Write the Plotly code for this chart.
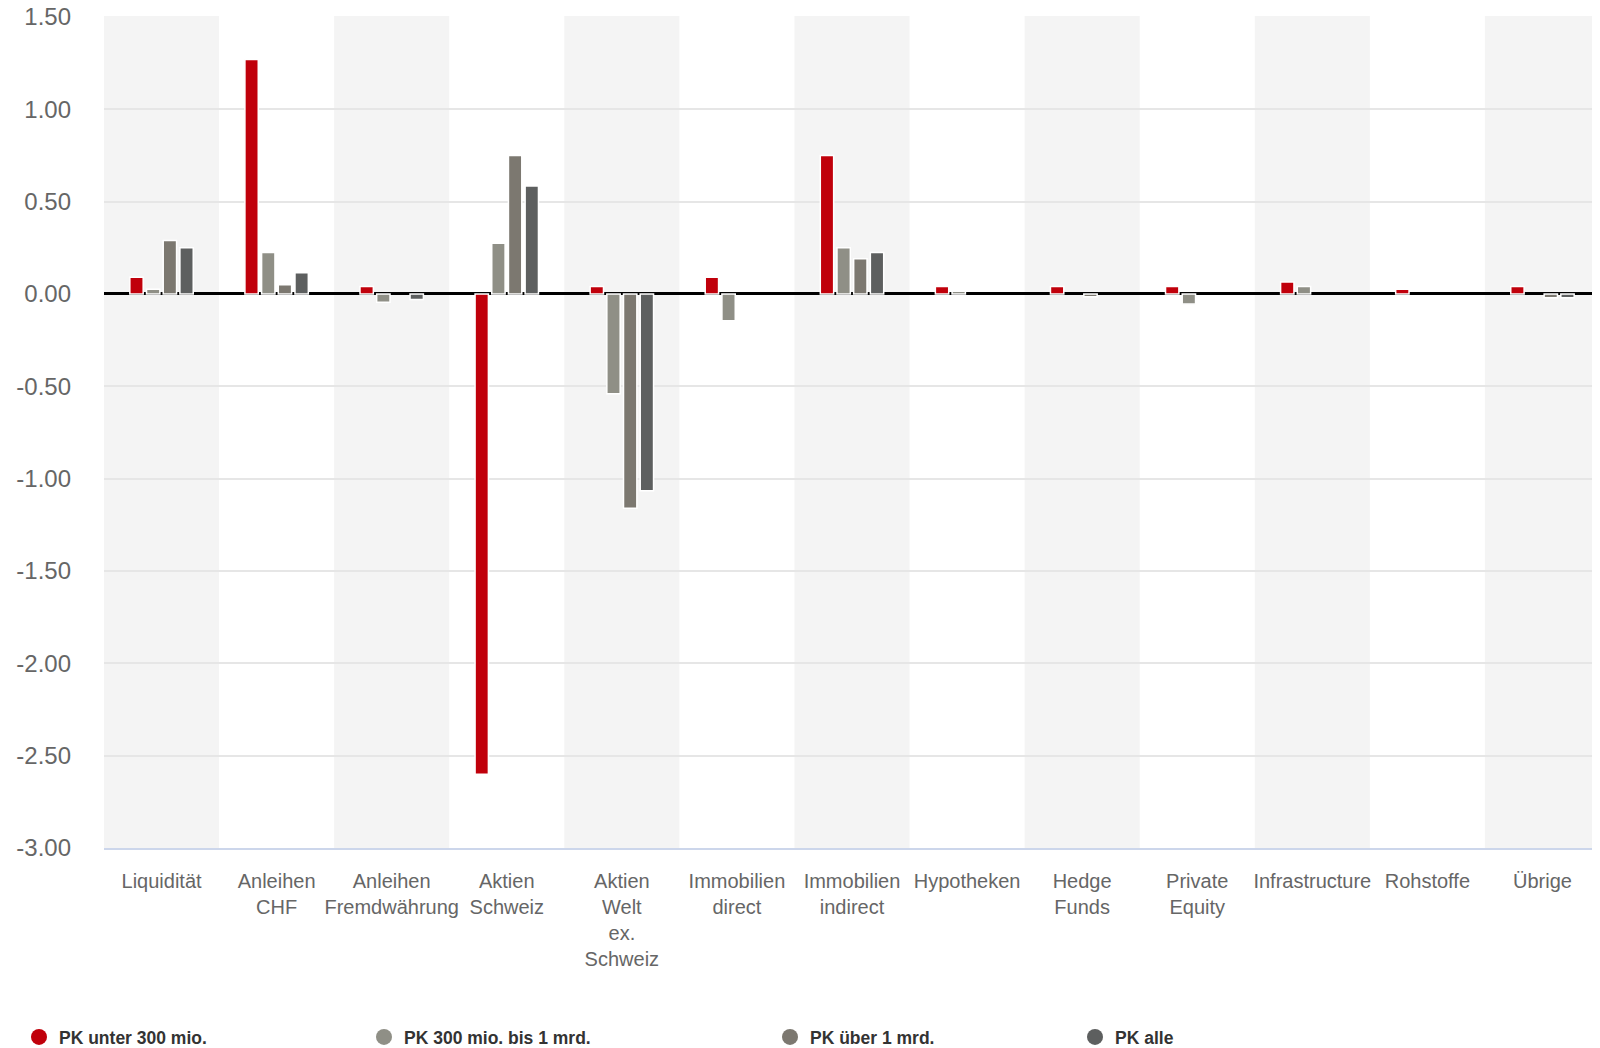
import plotly.graph_objects as go

# Anlagekategorien
kategorien = ["Liquidität", "Anleihen CHF", "Anleihen Fremdwährung", "Aktien Schweiz",
              "Aktien Welt ex. Schweiz", "Immobilien direct", "Immobilien indirect",
              "Hypotheken", "Hedge Funds", "Private Equity", "Infrastructure",
              "Rohstoffe", "Übrige"]
kategorie_labels = ["Liquidität", "Anleihen<br>CHF", "Anleihen<br>Fremdwährung",
                    "Aktien<br>Schweiz", "Aktien<br>Welt<br>ex.<br>Schweiz",
                    "Immobilien<br>direct", "Immobilien<br>indirect", "Hypotheken",
                    "Hedge<br>Funds", "Private<br>Equity", "Infrastructure",
                    "Rohstoffe", "Übrige"]

# Werte je Pensionskassen-Gruppe (None = kein Balken)
pk_unter_300 = [0.09, 1.27, 0.04, -2.60, 0.04, 0.09, 0.75, 0.04, 0.04, 0.04, 0.065, 0.025, 0.04]
pk_300_bis_1mrd = [0.025, 0.225, -0.045, 0.275, -0.54, -0.145, 0.25, 0.015, None, -0.055, 0.04, None, None]
pk_ueber_1mrd = [0.29, 0.05, None, 0.75, -1.16, None, 0.19, None, -0.015, None, None, None, -0.02]
pk_alle = [0.25, 0.115, -0.03, 0.585, -1.065, None, 0.225, None, None, None, None, None, -0.02]

serien = ["PK unter 300 mio.", "PK 300 mio. bis 1 mrd.", "PK über 1 mrd.", "PK alle"]
farben = ["#c0000b", "#8f8f86", "#7c7870", "#5d5f5f"]

y_ticks = [1.5, 1.0, 0.5, 0.0, -0.5, -1.0, -1.5, -2.0, -2.5, -3.0]
y_ticktext = ["1.50", "1.00", "0.50", "0.00", "-0.50", "-1.00", "-1.50", "-2.00", "-2.50", "-3.00"]

fig = go.Figure()
for name, werte, farbe in zip(serien, [pk_unter_300, pk_300_bis_1mrd, pk_ueber_1mrd, pk_alle], farben):
    fig.add_trace(go.Bar(x=kategorien, y=werte, name=name, showlegend=False,
                         marker=dict(color=farbe, line=dict(color="white", width=1.5))))

# Legendeneinträge mit Kreisen, jede in eigener Legende positioniert
# (die Seite hat 8px Body-Rand, daher sind alle Positionen um 8px verschoben)
legend_x = [11, 356, 762, 1067]
for i, (name, farbe) in enumerate(zip(serien, farben)):
    key = "legend" if i == 0 else f"legend{i+1}"
    fig.add_trace(go.Scatter(x=[None], y=[None], mode="markers", name=name, legend=key,
                             marker=dict(symbol="circle", size=16, color=farbe)))
    fig.update_layout({key: dict(xref="container", yref="container", x=legend_x[i] / 1600,
                                 y=1 - 1029 / 1048, xanchor="left", yanchor="middle",
                                 orientation="h", bgcolor="rgba(0,0,0,0)",
                                 font=dict(family="Liberation Sans, Arial", size=17.5,
                                           color="#333333", weight="bold"))})

shapes = []
for i in range(0, len(kategorien), 2):
    shapes.append(dict(type="rect", xref="x", yref="paper", x0=i - 0.5, x1=i + 0.5,
                       y0=0, y1=1, fillcolor="#f4f4f4", line=dict(width=0), layer="below"))

fig.update_layout(
    width=1600, height=1048,
    margin=dict(l=96, r=8, t=8, b=208),
    paper_bgcolor="white", plot_bgcolor="white",
    barmode="group", bargap=0.42, bargroupgap=0.2,
    shapes=shapes,
    font=dict(family="Liberation Sans, Arial", color="#666666"),
    xaxis=dict(tickmode="array", tickvals=kategorien, ticktext=kategorie_labels,
               tickfont=dict(size=20, color="#666666"), showgrid=False,
               showline=True, linecolor="#ccd6eb", linewidth=2, automargin=False,
               ticks="", ticklabelstandoff=14, range=[-0.5, 12.5]),
    yaxis=dict(range=[-3, 1.505], tickvals=y_ticks, ticktext=y_ticktext,
               tickfont=dict(size=24, color="#666666"), showgrid=True, automargin=False,
               ticklabeloverflow="allow",
               gridcolor="#e6e6e6", gridwidth=2, zeroline=True, zerolinecolor="#000000",
               zerolinewidth=2.5, ticklabelstandoff=32),
)

fig.write_html("out.html")
